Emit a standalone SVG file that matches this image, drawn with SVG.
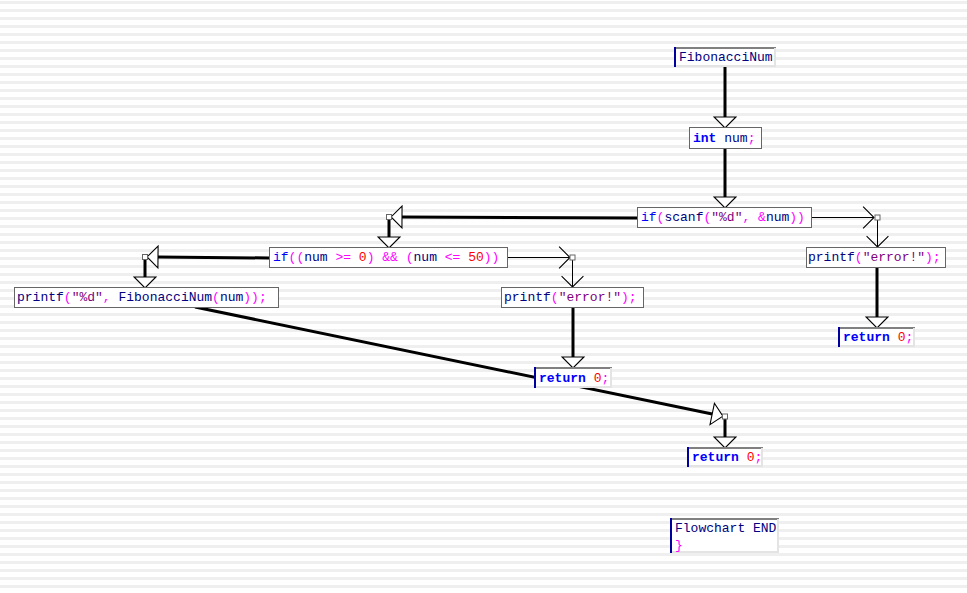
<svg xmlns="http://www.w3.org/2000/svg" width="967" height="593" viewBox="0 0 967 593">
<defs>
<pattern id="stripes" x="0" y="0" width="8" height="8" patternUnits="userSpaceOnUse">
<rect x="0" y="0" width="8" height="8" fill="#ffffff"/>
<rect x="0" y="1" width="8" height="3" fill="#efefef"/>
</pattern>
<marker id="tri" markerUnits="userSpaceOnUse" markerWidth="24" markerHeight="24" viewBox="-1 -11 13 22" refX="0" refY="0" orient="auto" overflow="visible">
<path d="M0,-10 L10,0 L0,10 Z" fill="#ffffff" stroke="#000000" stroke-width="1"/>
</marker>
<marker id="vee" markerUnits="userSpaceOnUse" markerWidth="24" markerHeight="24" viewBox="-1 -11 13 22" refX="10" refY="0" orient="auto" overflow="visible">
<path d="M0,-10 L10,0 L0,10" fill="none" stroke="#000000" stroke-width="1"/>
</marker>
</defs>
<style>
.thick{stroke:#000;stroke-width:3;fill:none;marker-end:url(#tri)}
.thin{stroke:#000;stroke-width:1;fill:none;marker-end:url(#vee)}
.sq{fill:#fff;stroke:#666;stroke-width:1}
.box{fill:#fff;stroke:#666;stroke-width:1}
.ibox{fill:#fff;stroke:none}
.itop{stroke:#808080;stroke-width:2}
.ileft{stroke:#0000a0;stroke-width:2}
.ilow{stroke:#e4e4e4;stroke-width:2}
text{font-family:"Liberation Mono","Courier New",monospace;font-size:13px;white-space:pre}
.kw{fill:#0000ff}
.kb{fill:#0000ff;font-weight:bold}
.id{fill:#000080}
.op{fill:#ff00ff}
.st{fill:#800080}
.nm{fill:#ff0000}
</style>
<rect x="0" y="0" width="967" height="593" fill="url(#stripes)"/>
<g id="connectors">
<line class="thick" x1="725" y1="67" x2="725" y2="117"/>
<line class="thick" x1="725" y1="148" x2="725" y2="197"/>
<line class="thick" x1="637" y1="218" x2="402" y2="217"/>
<line class="thick" x1="389" y1="220" x2="389" y2="237"/>
<line class="thick" x1="269" y1="258" x2="158" y2="257"/>
<line class="thick" x1="145" y1="260" x2="145" y2="277"/>
<line class="thick" x1="573" y1="307" x2="573" y2="357"/>
<line class="thick" x1="195" y1="307" x2="712.2" y2="414"/>
<line class="thick" x1="725" y1="419" x2="725" y2="437"/>
<line class="thick" x1="877" y1="267" x2="877" y2="317"/>
<line class="thin" x1="811" y1="217.5" x2="874" y2="217.5"/>
<line class="thin" x1="877.5" y1="220" x2="877.5" y2="247"/>
<line class="thin" x1="507" y1="257.5" x2="570" y2="257.5"/>
<line class="thin" x1="572.5" y1="260" x2="572.5" y2="287"/>
<rect class="sq" x="386.5" y="214.5" width="5" height="5"/>
<rect class="sq" x="142.5" y="254.5" width="5" height="5"/>
<rect class="sq" x="570" y="255" width="5" height="5"/>
<rect class="sq" x="875" y="215" width="5" height="5"/>
<rect class="sq" x="722.5" y="414" width="5" height="5"/>
</g>
<g id="n-start">
<rect class="ibox" x="674" y="47" width="102" height="20"/>
<line class="itop" x1="674" y1="48" x2="776" y2="48"/>
<line class="ilow" x1="775" y1="48" x2="775" y2="67"/>
<line class="ilow" x1="674" y1="66" x2="776" y2="66"/>
<line class="ileft" x1="675" y1="47" x2="675" y2="67"/>
<text x="679" y="61" class="id">FibonacciNum</text>
</g>
<g id="n-decl">
<rect class="box" x="689.5" y="127.5" width="72" height="21"/>
<text x="693" y="142"><tspan class="kb">int</tspan> <tspan class="id">num</tspan><tspan class="op">;</tspan></text>
</g>
<g id="n-if1">
<rect class="box" x="637.5" y="207.5" width="174" height="20"/>
<text x="641" y="221"><tspan class="kw">if</tspan><tspan class="op">(</tspan><tspan class="id">scanf</tspan><tspan class="op">(</tspan><tspan class="st">"%d"</tspan><tspan class="op">, &amp;</tspan><tspan class="id">num</tspan><tspan class="op">))</tspan></text>
</g>
<g id="n-if2">
<rect class="box" x="269.5" y="247.5" width="238" height="20"/>
<text x="273" y="261"><tspan class="kw">if</tspan><tspan class="op">((</tspan><tspan class="id">num</tspan> <tspan class="op">&gt;=</tspan> <tspan class="nm">0</tspan><tspan class="op">)</tspan> <tspan class="op">&amp;&amp;</tspan> <tspan class="op">(</tspan><tspan class="id">num</tspan> <tspan class="op">&lt;=</tspan> <tspan class="nm">50</tspan><tspan class="op">))</tspan></text>
</g>
<g id="n-print-fib">
<rect class="box" x="14.5" y="287.5" width="264" height="20"/>
<text x="17" y="301"><tspan class="id">printf</tspan><tspan class="op">(</tspan><tspan class="st">"%d"</tspan><tspan class="op">,</tspan> <tspan class="id">FibonacciNum</tspan><tspan class="op">(</tspan><tspan class="id">num</tspan><tspan class="op">));</tspan></text>
</g>
<g id="n-print-err1">
<rect class="box" x="501.5" y="287.5" width="142" height="20"/>
<text x="504" y="301"><tspan class="id">printf</tspan><tspan class="op">(</tspan><tspan class="st">"error!"</tspan><tspan class="op">);</tspan></text>
</g>
<g id="n-ret1">
<rect class="ibox" x="534" y="367" width="78" height="21"/>
<line class="itop" x1="534" y1="368" x2="612" y2="368"/>
<line class="ilow" x1="611" y1="368" x2="611" y2="388"/>
<line class="ilow" x1="534" y1="387" x2="612" y2="387"/>
<line class="ileft" x1="535" y1="367" x2="535" y2="388"/>
<text x="539" y="382"><tspan class="kb">return</tspan> <tspan class="nm">0</tspan><tspan class="op">;</tspan></text>
</g>
<g id="n-print-err2">
<rect class="box" x="806.5" y="247.5" width="139" height="20"/>
<text x="808" y="261"><tspan class="id">printf</tspan><tspan class="op">(</tspan><tspan class="st">"error!"</tspan><tspan class="op">);</tspan></text>
</g>
<g id="n-ret2">
<rect class="ibox" x="838" y="327" width="77" height="20"/>
<line class="itop" x1="838" y1="328" x2="915" y2="328"/>
<line class="ilow" x1="914" y1="328" x2="914" y2="347"/>
<line class="ilow" x1="838" y1="346" x2="915" y2="346"/>
<line class="ileft" x1="839" y1="327" x2="839" y2="347"/>
<text x="843" y="341"><tspan class="kb">return</tspan> <tspan class="nm">0</tspan><tspan class="op">;</tspan></text>
</g>
<g id="n-ret3">
<rect class="ibox" x="687" y="447" width="76" height="20"/>
<line class="itop" x1="687" y1="448" x2="763" y2="448"/>
<line class="ilow" x1="762" y1="448" x2="762" y2="467"/>
<line class="ilow" x1="687" y1="466" x2="763" y2="466"/>
<line class="ileft" x1="688" y1="447" x2="688" y2="467"/>
<text x="692" y="461"><tspan class="kb">return</tspan> <tspan class="nm">0</tspan><tspan class="op">;</tspan></text>
</g>
<g id="n-end">
<rect class="ibox" x="670" y="518" width="109" height="35"/>
<line class="itop" x1="670" y1="519" x2="779" y2="519"/>
<line class="ilow" x1="778" y1="519" x2="778" y2="553"/>
<line class="ilow" x1="670" y1="552" x2="779" y2="552"/>
<line class="ileft" x1="671" y1="518" x2="671" y2="553"/>
<text x="675" y="532" class="id">Flowchart END</text>
<text x="675" y="549" class="op">}</text>
</g>
</svg>
